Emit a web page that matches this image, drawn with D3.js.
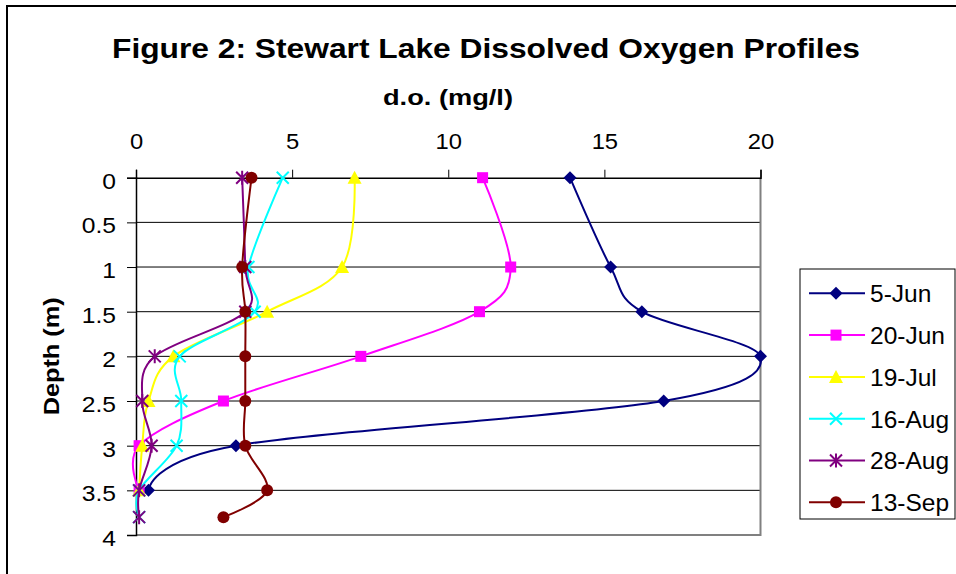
<!DOCTYPE html>
<html>
<head>
<meta charset="utf-8">
<script src="https://cdn.jsdelivr.net/npm/d3@7"></script>
<style>
  html, body { margin: 0; padding: 0; background: #fff; }
  svg { display: block; font-family: "Liberation Sans", Arial, sans-serif; }
</style>
</head>
<body>
<svg id="chart" width="956" height="574"></svg>
<script>
// ---- data ----
const seriesNames = ["5-Jun", "20-Jun", "19-Jul", "16-Aug", "28-Aug", "13-Sep"];
const depthsShort = [0, 1, 1.5, 2, 2.5, 3, 3.5];
const depthsLong  = [0, 1, 1.5, 2, 2.5, 3, 3.5, 3.8];
const jun05 = [13.9, 15.2, 16.2, 20.0, 16.9, 3.2, 0.4];
const jun20 = [11.1, 12.0, 11.0, 7.2, 2.8, 0.1, 0.1];
const jul19 = [7.0, 6.6, 4.2, 1.2, 0.4, 0.2, 0.1];
const aug16 = [4.7, 3.6, 3.8, 1.4, 1.45, 1.3, 0.1, 0.1];
const aug28 = [3.4, 3.5, 3.5, 0.6, 0.2, 0.5, 0.1, 0.1];
const sep13 = [3.7, 3.4, 3.5, 3.5, 3.5, 3.5, 4.2, 2.8];
const xTicks = [0, 5, 10, 15, 20];
const yTicks = [0, 0.5, 1, 1.5, 2, 2.5, 3, 3.5, 4];

const series = [
  { name: seriesNames[0], depth: depthsShort, values: jun05, color: "#000080", marker: "diamond" },
  { name: seriesNames[1], depth: depthsShort, values: jun20, color: "#FF00FF", marker: "square" },
  { name: seriesNames[2], depth: depthsShort, values: jul19, color: "#FFFF00", marker: "triangle" },
  { name: seriesNames[3], depth: depthsLong,  values: aug16, color: "#00FFFF", marker: "x" },
  { name: seriesNames[4], depth: depthsLong,  values: aug28, color: "#800080", marker: "star" },
  { name: seriesNames[5], depth: depthsLong,  values: sep13, color: "#800000", marker: "circle" }
];

// ---- layout ----
const svg = d3.select("#chart");
const plot = { left: 136, right: 760.5, top: 177.7, bottom: 535 };
const x = d3.scaleLinear().domain([0, 20]).range([plot.left, plot.right]);
const y = d3.scaleLinear().domain([0, 4]).range([plot.top, plot.bottom]);

// horizontally widen text (reference rendering is stretched)
function stretch(sel, factor) {
  sel.each(function () {
    const w = this.getComputedTextLength();
    d3.select(this).attr("textLength", w * factor).attr("lengthAdjust", "spacingAndGlyphs");
  });
}
function fitWidth(sel, width) {
  sel.attr("textLength", width).attr("lengthAdjust", "spacingAndGlyphs");
}

// outer chart border
svg.append("rect").attr("x", 7).attr("y", 6).attr("width", 980).attr("height", 600)
  .attr("fill", "#fff").attr("stroke", "#000").attr("stroke-width", 2);

// title
fitWidth(svg.append("text").attr("x", 486).attr("y", 58).attr("text-anchor", "middle")
  .attr("font-size", 28.5).attr("font-weight", "bold").text("Figure 2: Stewart Lake Dissolved Oxygen Profiles"), 748);
fitWidth(svg.append("text").attr("x", 448).attr("y", 105).attr("text-anchor", "middle")
  .attr("font-size", 22).attr("font-weight", "bold").text("d.o. (mg/l)"), 130);
fitWidth(svg.append("text").attr("transform", `translate(59,${(plot.top + plot.bottom) / 2}) rotate(-90)`)
  .attr("text-anchor", "middle").attr("font-size", 22).attr("font-weight", "bold").text("Depth (m)"), 118);

// gridlines
svg.append("g").selectAll("line").data(yTicks.filter(d => d > 0 && d < 4)).join("line")
  .attr("x1", plot.left).attr("x2", plot.right)
  .attr("y1", d => y(d)).attr("y2", d => y(d))
  .attr("stroke", "#000").attr("stroke-width", 1);

// plot border right/bottom (gray)
svg.append("path")
  .attr("d", `M${plot.right},${plot.top}V${plot.bottom}H${plot.left}`)
  .attr("fill", "none").attr("stroke", "#808080").attr("stroke-width", 2);

// x axis (top)
const xAxis = svg.append("g").attr("transform", `translate(0,${plot.top})`)
  .call(d3.axisTop(x).tickValues(xTicks).tickSize(8).tickPadding(21).tickFormat(d3.format("d")));
xAxis.select(".domain").attr("stroke", "#000").attr("stroke-width", 1.5);
xAxis.selectAll(".tick line").attr("stroke", "#000");
xAxis.selectAll("text").attr("font-size", 22).attr("fill", "#000")
  .attr("font-family", "Liberation Sans, Arial, sans-serif");
stretch(xAxis.selectAll("text"), 1.08);

// y axis (left)
const yAxis = svg.append("g").attr("transform", `translate(${plot.left},0)`)
  .call(d3.axisLeft(y).tickValues(yTicks).tickSize(9).tickPadding(11).tickFormat(d => String(d)));
yAxis.select(".domain").attr("stroke", "#000").attr("stroke-width", 1.5);
yAxis.selectAll(".tick line").attr("stroke", "#000");
yAxis.selectAll("text").attr("font-size", 22).attr("fill", "#000").attr("dy", "0.48em")
  .attr("font-family", "Liberation Sans, Arial, sans-serif");
stretch(yAxis.selectAll("text"), 1.12);

// markers
function drawMarker(g, type, color) {
  switch (type) {
    case "diamond":
      g.append("path").attr("d", "M0,-6.5L6.5,0L0,6.5L-6.5,0Z").attr("fill", color); break;
    case "square":
      g.append("rect").attr("x", -5.5).attr("y", -5.5).attr("width", 11).attr("height", 11).attr("fill", color); break;
    case "triangle":
      g.append("path").attr("d", "M0,-7L7,6L-7,6Z").attr("fill", color); break;
    case "x":
      g.append("path").attr("d", "M-6,-6L6,6M-6,6L6,-6").attr("stroke", color).attr("stroke-width", 2).attr("fill", "none"); break;
    case "star":
      g.append("path").attr("d", "M-6,-6L6,6M-6,6L6,-6M0,-7V7").attr("stroke", color).attr("stroke-width", 2).attr("fill", "none"); break;
    case "circle":
      g.append("circle").attr("r", 6).attr("fill", color); break;
  }
}

const line = d3.line().curve(d3.curveCatmullRom.alpha(0));
series.forEach(s => {
  const pts = s.values.map((v, i) => [x(v), y(s.depth[i])]);
  svg.append("path").attr("d", line(pts)).attr("fill", "none")
    .attr("stroke", s.color).attr("stroke-width", 2);
  pts.forEach(p => {
    const g = svg.append("g").attr("transform", `translate(${p[0]},${p[1]})`);
    drawMarker(g, s.marker, s.color);
  });
});

// legend
const leg = { x: 800, y: 269, w: 155, h: 250, row0: 293.3, step: 41.8 };
svg.append("rect").attr("x", leg.x).attr("y", leg.y).attr("width", leg.w).attr("height", leg.h)
  .attr("fill", "#fff").attr("stroke", "#000").attr("stroke-width", 1);
series.forEach((s, i) => {
  const cy = leg.row0 + i * leg.step;
  svg.append("line").attr("x1", 809).attr("x2", 865).attr("y1", cy).attr("y2", cy)
    .attr("stroke", s.color).attr("stroke-width", 2);
  const g = svg.append("g").attr("transform", `translate(836,${cy})`);
  drawMarker(g, s.marker, s.color);
  svg.append("text").attr("x", 870).attr("y", cy).attr("dy", "0.36em")
    .attr("font-size", 24.5).text(s.name);
});
</script>
</body>
</html>
